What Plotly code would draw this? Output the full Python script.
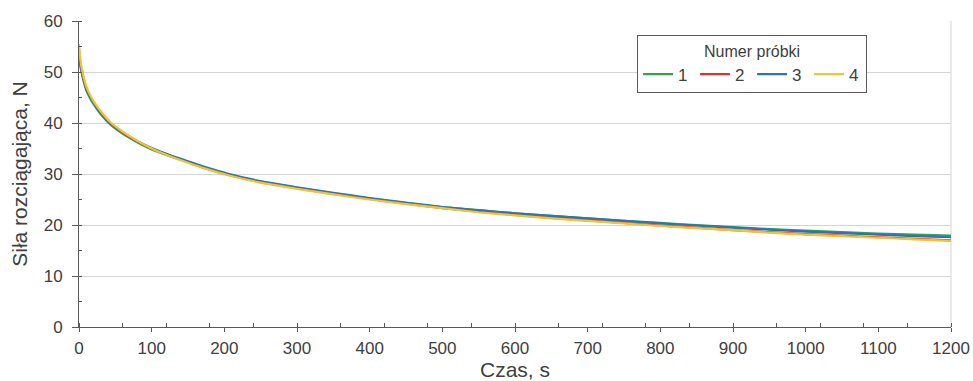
import plotly.graph_objects as go

# ---- data ----
czas = [0, 2, 4, 7, 10, 15, 20, 30, 43, 60, 80, 100, 125, 150, 175, 204, 250, 300, 350,
        400, 450, 500, 550, 600, 650, 700, 750, 800, 850, 900, 950, 1000, 1050, 1100, 1150, 1200]

probka_1 = [53.5, 51.0, 49.6, 47.8, 46.4, 44.9, 43.7, 41.7, 39.7, 37.9, 36.2, 34.8, 33.5, 32.3, 31.1,
            29.9, 28.5, 27.3, 26.2, 25.2, 24.3, 23.5, 22.9, 22.3, 21.8, 21.3, 20.8, 20.4, 20.0, 19.6,
            19.2, 18.9, 18.6, 18.3, 18.1, 17.9]
probka_2 = [54.0, 51.6, 50.1, 48.3, 46.9, 45.3, 44.1, 42.0, 40.0, 38.1, 36.4, 35.0, 33.6, 32.3, 31.1,
            29.9, 28.4, 27.2, 26.1, 25.1, 24.2, 23.3, 22.6, 22.0, 21.4, 20.9, 20.4, 19.9, 19.5, 19.0,
            18.6, 18.2, 17.9, 17.6, 17.3, 17.0]
probka_3 = [54.0, 51.5, 50.0, 48.2, 46.8, 45.2, 44.0, 42.0, 40.0, 38.2, 36.5, 35.1, 33.7, 32.5, 31.3,
            30.1, 28.6, 27.4, 26.3, 25.3, 24.4, 23.5, 22.9, 22.3, 21.8, 21.3, 20.8, 20.3, 19.9, 19.5,
            19.1, 18.7, 18.4, 18.1, 17.8, 17.6]
probka_4 = [55.5, 52.3, 50.6, 48.7, 47.2, 45.6, 44.3, 42.3, 40.2, 38.3, 36.5, 35.0, 33.5, 32.2, 31.0,
            29.8, 28.3, 27.1, 26.0, 25.0, 24.1, 23.3, 22.5, 21.9, 21.3, 20.8, 20.3, 19.8, 19.4, 19.0,
            18.5, 18.1, 17.8, 17.5, 17.2, 16.9]

names = ["1", "2", "3", "4"]
series = [probka_1, probka_2, probka_3, probka_4]
colors = ["#2fa352", "#e2302c", "#2f72b6", "#f6c232"]

FONT = "Liberation Sans, Arial, sans-serif"
AX = "#595959"
TXT = "#404040"

fig = go.Figure()
for n, s, c in zip(names, series, colors):
    fig.add_trace(go.Scatter(x=czas, y=s, name=n, mode="lines",
                             line=dict(color=c, width=2.2, shape="spline", smoothing=0.6)))

fig.update_layout(
    width=973, height=381,
    margin=dict(l=79, r=22, t=21, b=54, autoexpand=False),
    paper_bgcolor="white", plot_bgcolor="white",
    font=dict(family=FONT, color=TXT, size=16),
    xaxis=dict(
        range=[0, 1200], dtick=100, tick0=0, automargin=False,
        showline=True, linecolor=AX, linewidth=1,
        ticks="outside", ticklen=4, tickcolor=AX, tickwidth=1,
        minor=dict(ticks="inside", ticklen=4, tickcolor=AX, dtick=60, tick0=0, showgrid=False),
        showgrid=False, zeroline=False,
        tickfont=dict(size=17, color=TXT), ticklabelstandoff=2,
        title=dict(text="Czas, s", font=dict(size=21, color=TXT), standoff=4),
    ),
    xaxis2=dict(
        range=[0, 1200], dtick=100, tick0=0, overlaying="x", anchor="y", side="bottom",
        ticks="inside", ticklen=4, tickcolor=AX, showticklabels=False, automargin=False,
        showgrid=False, showline=False, zeroline=False,
    ),
    yaxis=dict(
        range=[0, 60], dtick=10, tick0=0, automargin=False,
        showline=True, linecolor=AX, linewidth=1,
        ticks="outside", ticklen=6, tickcolor=AX,
        minor=dict(ticks="inside", ticklen=3, tickcolor=AX, dtick=5, tick0=0, showgrid=False),
        showgrid=True, gridcolor="#d4d4d4", gridwidth=1, zeroline=False,
        tickfont=dict(size=17, color=TXT), ticklabelstandoff=6,
        title=dict(text="Siła rozciągająca, N", font=dict(size=21, color=TXT), standoff=10),
    ),
    legend=dict(
        orientation="h", x=0.64, y=0.955, xanchor="left", yanchor="top",
        bgcolor="white", bordercolor=AX, borderwidth=1,
        title=dict(text="Numer próbki", side="top center", font=dict(size=16, color=TXT)),
        font=dict(size=17, color=TXT), tracegroupgap=0,
        entrywidth=12, entrywidthmode="pixels",
    ),
    shapes=[dict(type="line", xref="paper", yref="paper", x0=1, x1=1, y0=0, y1=1,
                 line=dict(color="#d4d4d4", width=1), layer="below")],
)

fig.write_html("out.html",
               config={"displayModeBar": False},
               post_script="document.body.style.margin='0';document.body.style.padding='0';"
                           "document.body.style.overflow='hidden';")
